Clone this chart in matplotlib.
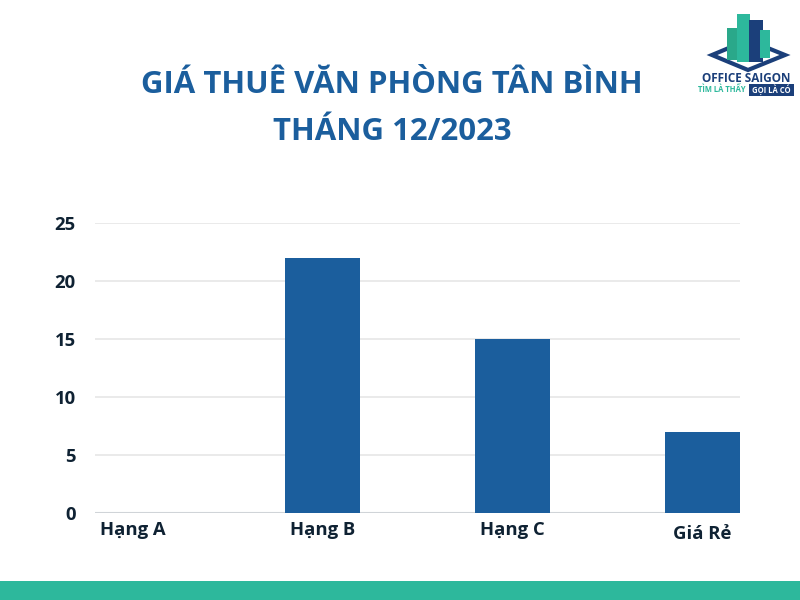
import matplotlib
matplotlib.use("Agg")
import matplotlib.pyplot as plt
from matplotlib.patches import Rectangle, Polygon
from matplotlib.transforms import ScaledTranslation

categories = ["Hạng A", "Hạng B", "Hạng C", "Giá Rẻ"]
values = [0, 22, 15, 7]
yticks = [0, 5, 10, 15, 20, 25]
title_lines = ["GIÁ THUÊ VĂN PHÒNG TÂN BÌNH", "THÁNG 12/2023"]

plt.rcParams['font.family'] = ['Open Sans', 'DejaVu Sans']
BLUE = "#1b5e9d"
DARK = "#0f2233"
TEAL = "#2db89c"

fig = plt.figure(figsize=(8, 6), dpi=100)
fig.patch.set_facecolor("white")

ax = fig.add_axes([95/800, 87/600, 645/800, 290/600])
w = 75/190
x = list(range(len(categories)))
ax.bar(x, values, width=w, color=BLUE, zorder=3)
ax.set_xlim(-w/2, 3 + w/2)
ax.set_ylim(0, 25)
ax.set_yticks(yticks)
ax.set_yticklabels([str(t) for t in yticks], fontsize=13.3, fontweight='bold', color=DARK)
ax.set_xticks(x)
ax.set_xticklabels(categories, fontsize=13.3, fontweight='bold', color=DARK)
ax.tick_params(axis='both', length=0)
ax.tick_params(axis='y', pad=14)
ax.tick_params(axis='x', pad=6)
labs = ax.get_xticklabels()
labs[-1].set_transform(labs[-1].get_transform() + ScaledTranslation(0, -4/100, fig.dpi_scale_trans))
for s in ax.spines.values():
    s.set_visible(False)
ax.grid(axis='y', color="#e6e6e6", linewidth=1.2, zorder=0)
ax.axhline(0, color="#d0d4d8", linewidth=1.5, zorder=2)

fig.text(392/800, 1 - 93/600, title_lines[0], ha='center', va='baseline',
         fontsize=22.4, fontweight='bold', color=BLUE)
fig.text(392/800, 1 - 140/600, title_lines[1], ha='center', va='baseline',
         fontsize=22.4, fontweight='bold', color=BLUE)

# bottom stripe
fig.patches.append(Rectangle((0, 0), 1, 19/600, transform=fig.transFigure,
                             facecolor=TEAL, edgecolor='none'))

# logo
lax = fig.add_axes([690/800, 1 - 110/600, 110/800, 110/600])
lax.set_xlim(690, 800)
lax.set_ylim(110, 0)
lax.axis('off')
lax.add_patch(Polygon([[712, 55], [748, 40], [785, 55], [748, 70]], closed=True,
                      facecolor='none', edgecolor="#1b3f7a", linewidth=3))
lax.add_patch(Rectangle((727, 28), 12, 32, facecolor="#2aa88a", edgecolor='none'))
lax.add_patch(Rectangle((737, 14), 13, 48, facecolor="#2db89c", edgecolor='none'))
lax.add_patch(Rectangle((749, 20), 14, 42, facecolor="#1b3f7a", edgecolor='none'))
lax.add_patch(Rectangle((760, 30), 10, 28, facecolor="#2db89c", edgecolor='none'))
lax.text(746, 78, "OFFICE SAIGON", ha='center', va='center', fontsize=8.5,
         fontweight='bold', color="#1b3f7a")
lax.text(722, 90, "TÌM LÀ THẤY", ha='center', va='center', fontsize=5.5,
         fontweight='bold', color=TEAL)
lax.add_patch(Rectangle((749, 84), 45, 12, facecolor="#1b3f7a", edgecolor='none'))
lax.text(771, 90, "GỌI LÀ CÓ", ha='center', va='center', fontsize=5.5,
         fontweight='bold', color='white')

fig.savefig("out.png", dpi=100, facecolor="white")
